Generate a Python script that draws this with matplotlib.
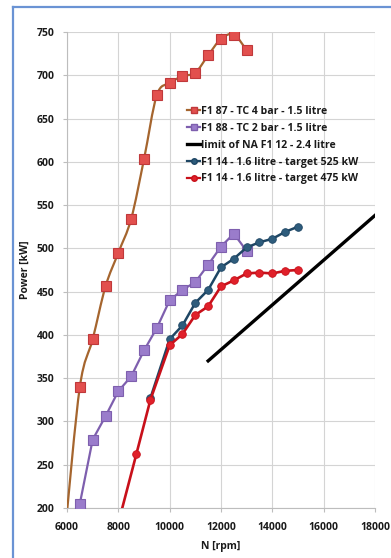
import numpy as np
import matplotlib
matplotlib.use("Agg")
import matplotlib.pyplot as plt
from matplotlib.path import Path
from matplotlib.patches import PathPatch
from matplotlib.lines import Line2D

plt.rcParams['font.family'] = ['Open Sans', 'DejaVu Sans']
plt.rcParams['font.weight'] = 'bold'

# F1 87 - turbo 4 bar (first point sits below the axis floor and is clipped)
rpm_87 = [5950, 6500, 7000, 7500, 8000, 8500, 9000, 9500, 10000, 10500, 11000, 11500, 12000, 12500, 13000]
kw_87 = [180, 340, 395, 456, 495, 534, 603, 677, 691, 699, 703, 723, 742, 747, 729]

# F1 88 - turbo 2 bar
rpm_88 = [6500, 7000, 7500, 8000, 8500, 9000, 9500, 10000, 10500, 11000, 11500, 12000, 12500, 13000]
kw_88 = [205, 279, 306, 335, 352, 382, 408, 440, 452, 461, 481, 502, 517, 497]

# naturally aspirated limit
rpm_na = [11500, 18000]
kw_na = [370, 538]

# F1 14 target 525 kW
rpm_525 = [9250, 10000, 10500, 11000, 11500, 12000, 12500, 13000, 13500, 14000, 14500, 15000]
kw_525 = [327, 395, 411, 437, 452, 478, 488, 501, 507, 511, 519, 525]

# F1 14 target 475 kW
rpm_475 = [7800, 8700, 9250, 10000, 10500, 11000, 11500, 12000, 12500, 13000, 13500, 14000, 14500, 15000]
kw_475 = [160, 262, 325, 388, 401, 423, 433, 456, 463, 471, 472, 471, 474, 475]

labels = ["F1 87 - TC 4 bar - 1.5 litre",
          "F1 88 - TC 2 bar - 1.5 litre",
          "limit of NA F1 12 - 2.4 litre",
          "F1 14 - 1.6 litre - target 525 kW",
          "F1 14 - 1.6 litre - target 475 kW"]


def smooth_path(x, y, tension=1.0 / 6):
	"""Catmull-Rom style cubic bezier path through the points."""
	x = np.asarray(x, float)
	y = np.asarray(y, float)
	verts = [(x[0], y[0])]
	codes = [Path.MOVETO]
	n = len(x)
	for i in range(n - 1):
		i0 = max(i - 1, 0)
		i3 = min(i + 2, n - 1)
		c1 = (x[i] + (x[i + 1] - x[i0]) * tension, y[i] + (y[i + 1] - y[i0]) * tension)
		c2 = (x[i + 1] - (x[i3] - x[i]) * tension, y[i + 1] - (y[i3] - y[i]) * tension)
		verts += [c1, c2, (x[i + 1], y[i + 1])]
		codes += [Path.CURVE4] * 3
	return Path(verts, codes)


fig = plt.figure(figsize=(3.91, 5.58), dpi=100)
ax = fig.add_axes([0.1714, 0.0896, 0.7875, 0.8531])

brown = "#A5652E"
sq_face, sq_edge = "#E2504E", "#C0393B"
purple, purple_face = "#7E5FAE", "#9A7CCB"
navy, navy_face = "#1E4664", "#2E5C7C"
red, red_face = "#C8101A", "#E0202A"

# F1 87: smoothed brown line, square markers
ax.add_patch(PathPatch(smooth_path(rpm_87, kw_87), facecolor="none", edgecolor=brown, lw=1.6, zorder=3))
ax.plot(rpm_87, kw_87, ls="none", marker="s", ms=6.5, mfc=sq_face, mec=sq_edge, mew=0.8, zorder=4)

ax.plot(rpm_88, kw_88, color=purple, lw=1.6, marker="s", ms=6.5, mfc=purple_face, mec=purple, mew=0.8, zorder=4)
ax.plot(rpm_na, kw_na, color="black", lw=2.4, zorder=4)
ax.plot(rpm_525, kw_525, color=navy, lw=1.8, marker="o", ms=5.5, mfc=navy_face, mec=navy, mew=0.6, zorder=5)
ax.plot(rpm_475, kw_475, color=red, lw=1.9, marker="o", ms=5.5, mfc=red_face, mec=red, mew=0.6, zorder=6)

ax.set_xlim(6000, 18000)
ax.set_ylim(200, 750)
ax.set_xticks(np.arange(6000, 18001, 2000))
ax.set_yticks(np.arange(200, 751, 50))
ax.grid(True, color="#D4D4D4", lw=0.8)
ax.set_axisbelow(True)
for side in ["top", "right"]:
	ax.spines[side].set_visible(False)
for side in ["left", "bottom"]:
	ax.spines[side].set_color("#BDBDBD")
	ax.spines[side].set_linewidth(0.8)
ax.tick_params(axis="both", colors="#BDBDBD", labelcolor="#1A1A1A", labelsize=7.5, length=3, width=0.8)
ax.tick_params(axis="x", pad=7)
ax.tick_params(axis="y", pad=6)
for lab in ax.get_xticklabels() + ax.get_yticklabels():
	lab.set_fontweight("bold")

ax.set_xlabel("N [rpm]", fontsize=7.5, fontweight="bold", color="#1A1A1A", labelpad=6)
ax.set_ylabel("Power [kW]", fontsize=7.5, fontweight="bold", color="#1A1A1A", labelpad=4)

handles = [
	Line2D([], [], color=brown, lw=1.6, marker="s", ms=4.5, mfc=sq_face, mec=sq_edge),
	Line2D([], [], color=purple, lw=1.6, marker="s", ms=4.5, mfc=purple_face, mec=purple),
	Line2D([], [], color="black", lw=2.4),
	Line2D([], [], color=navy, lw=1.6, marker="o", ms=4, mfc=navy_face, mec=navy),
	Line2D([], [], color=red, lw=1.6, marker="o", ms=4, mfc=red_face, mec=red),
]
leg = ax.legend(handles, labels, loc="upper left", bbox_to_anchor=(0.375, 0.853),
				frameon=False, fontsize=7.6, handlelength=1.3, handletextpad=0.1,
				labelspacing=0.55, borderaxespad=0)
for t in leg.get_texts():
	t.set_fontweight("bold")
	t.set_color("#1A1A1A")

# chart border on the top and left edges
border = "#6A93D4"
fig.add_artist(Line2D([13 / 391, 13 / 391], [0, 1 - 7 / 558], transform=fig.transFigure, color=border, lw=1.6))
fig.add_artist(Line2D([13 / 391, 1], [1 - 7 / 558, 1 - 7 / 558], transform=fig.transFigure, color=border, lw=1.6))

fig.savefig("out.png", dpi=100)
